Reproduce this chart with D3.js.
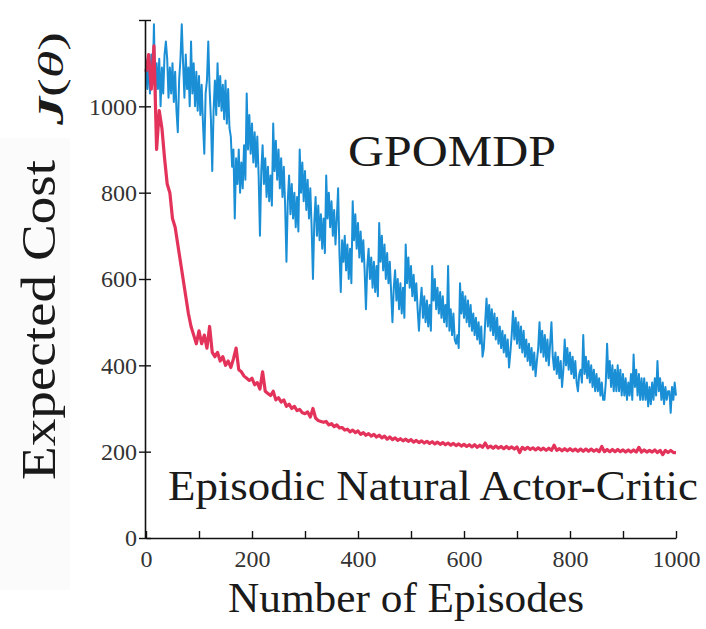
<!DOCTYPE html>
<html>
<head>
<meta charset="utf-8">
<script src="https://cdn.jsdelivr.net/npm/d3@7"></script>
<style>
  html, body { margin: 0; padding: 0; background: #fff; }
  svg { display: block; }
  text { font-family: "Liberation Serif", "DejaVu Serif", serif; }
</style>
</head>
<body>
<svg id="chart" width="706" height="629"></svg>
<script>
// ---- data ----
const gpomdpStep = 2.5;          // GPOMDP sampled every 2.5 episodes, 0..1000
const enacStep = 5;              // eNAC sampled every 5 episodes, 0..1000
const xTicks = [0, 100, 200, 300, 400, 500, 600, 700, 800, 900, 1000];
const xTickLabels = ["0", "", "200", "", "400", "", "600", "", "800", "", "1000"];
const yTicks = [0, 200, 400, 600, 800, 1000, 1200];
const yTickLabels = ["0", "200", "400", "600", "800", "1000", ""];

const gpomdp = [
  1100,1040,1110,1030,1120,1050,1190,1020,1100,1040,1110,1000,1090,1030,1120,1150,1110,1020,1090,1030,
  1100,1010,1080,990,940,1060,1110,1190,1100,1020,1120,1040,1090,1000,1150,1030,1100,1000,1080,990,
  1070,980,1050,960,890,1030,1060,1150,1040,970,850,990,1060,980,1100,1000,1070,990,1050,970,
  1060,960,1040,950,930,860,900,740,880,820,900,800,870,810,910,830,
  1030,900,980,890,960,870,940,860,930,840,700,850,910,820,880,790,860,780,840,770,
  960,850,920,830,900,810,880,790,860,770,640,780,840,750,820,740,800,720,790,710,
  900,800,870,780,850,760,830,740,810,720,600,730,790,700,770,690,750,670,740,660,
  840,740,800,720,780,700,760,680,740,810,660,570,690,640,700,620,680,600,670,590,
  780,690,750,670,730,650,710,640,690,620,530,630,670,600,650,580,640,570,630,560,
  730,640,700,620,680,600,660,590,640,570,500,580,620,550,600,530,590,520,580,510,
  680,590,650,580,630,560,610,550,590,530,480,540,580,510,560,500,550,490,540,480,
  630,550,600,530,580,520,570,510,560,500,540,490,630,480,530,470,520,460,450,470,
  440,590,520,570,510,560,500,550,490,540,480,520,470,510,460,500,450,490,420,440,
  500,555,490,540,480,530,470,520,460,510,450,490,440,480,430,470,420,460,395,430,
  470,525,460,510,450,500,440,490,430,480,420,460,410,450,400,440,390,430,375,410,
  440,500,430,480,420,470,410,460,400,450,500,420,390,430,380,420,370,410,350,390,
  460,400,440,390,430,380,420,370,410,360,340,380,390,360,470,380,420,370,410,360,
  400,350,390,340,380,340,370,330,360,320,320,360,450,370,410,350,400,340,390,340,
  400,340,390,330,380,330,370,320,360,330,380,320,425,350,390,330,380,320,370,320,
  370,320,360,305,350,310,360,320,370,330,410,340,370,320,360,310,350,320,340,340,
  290,350,320,360,330
];

const enac = [
  1080,1120,1040,1140,900,990,950,880,820,800,
  740,720,680,640,600,560,520,490,470,450,
  480,450,470,440,490,430,420,430,410,420,
  400,410,395,415,440,390,385,375,370,365,
  370,355,360,345,385,340,335,330,340,320,
  325,315,320,305,310,300,305,295,298,290,
  288,292,280,300,278,272,270,268,270,262,
  265,258,262,255,256,250,252,246,250,244,
  248,240,244,238,242,236,240,234,238,232,
  236,229,234,228,232,226,230,225,229,224,
  228,222,226,221,225,220,224,219,223,218,
  222,217,221,216,220,215,219,214,218,213,
  217,212,216,211,216,210,215,210,220,209,
  213,208,213,208,212,207,212,207,211,206,
  211,198,210,205,210,205,209,204,209,204,
  208,203,208,203,215,203,207,202,207,202,
  207,202,206,201,206,201,206,201,206,201,
  205,200,212,200,205,200,205,200,205,200,
  204,199,204,199,204,199,210,199,204,199,
  203,199,204,198,203,193,203,198,203,198,
  198
];

// ---- drawing ----
const svg = d3.select("#chart");
svg.append("rect").attr("width", 706).attr("height", 629).attr("fill", "#fff");
svg.append("rect").attr("x", 0).attr("y", 138).attr("width", 70).attr("height", 452).attr("fill", "#fbfbfb");

const x = d3.scaleLinear().domain([0, 1000]).range([146, 676]);
const y = d3.scaleLinear().domain([0, 1200]).range([538, 20]);

const lineFor = step => d3.line()
  .x((d, i) => x(i * step))
  .y(d => y(d));

svg.append("path").datum(gpomdp)
  .attr("fill", "none").attr("stroke", "#1a8fd6")
  .attr("stroke-width", 2).attr("stroke-linejoin", "round")
  .attr("d", lineFor(gpomdpStep));

svg.append("path").datum(enac)
  .attr("fill", "none").attr("stroke", "#e4335a")
  .attr("stroke-width", 3.2).attr("stroke-linejoin", "round")
  .attr("d", lineFor(enacStep));

// y axis
const yAxis = d3.axisLeft(y).tickValues(yTicks)
  .tickFormat((d, i) => yTickLabels[i])
  .tickSizeInner(6).tickSizeOuter(0).tickPadding(2);
const gy = svg.append("g").attr("transform", "translate(145,0)").call(yAxis);
gy.select(".domain").attr("stroke", "#111").attr("stroke-width", 1.6);
gy.selectAll(".tick line").attr("stroke", "#111").attr("stroke-width", 1.4);
gy.selectAll(".tick text").attr("font-size", 24).attr("fill", "#333")
  .attr("font-family", "Liberation Serif, serif");
gy.selectAll(".tick").append("line").attr("x1", 0).attr("x2", 6)
  .attr("stroke", "#111").attr("stroke-width", 1.4);

// x axis
const xAxis = d3.axisBottom(x).tickValues(xTicks)
  .tickFormat((d, i) => xTickLabels[i])
  .tickSizeInner(-7).tickSizeOuter(0).tickPadding(12);
const gx = svg.append("g").attr("transform", "translate(0,538)").call(xAxis);
gx.select(".domain").attr("stroke", "#111").attr("stroke-width", 1.6);
gx.selectAll(".tick line").attr("stroke", "#111").attr("stroke-width", 1.4);
gx.selectAll(".tick text").attr("font-size", 24).attr("fill", "#333")
  .attr("font-family", "Liberation Serif, serif");

// titles
svg.append("text").attr("x", 228).attr("y", 612)
  .attr("font-size", 42).attr("fill", "#1a1a1a")
  .attr("textLength", 356).attr("lengthAdjust", "spacingAndGlyphs")
  .text("Number of Episodes");

svg.append("text").attr("transform", "translate(55,480) rotate(-90)")
  .attr("font-size", 48).attr("fill", "#1a1a1a")
  .attr("textLength", 320).attr("lengthAdjust", "spacingAndGlyphs")
  .text("Expected Cost");

const jt = svg.append("text").attr("transform", "translate(63,125) rotate(-90)")
  .attr("font-size", 36).attr("fill", "#1a1a1a")
  .attr("textLength", 93).attr("lengthAdjust", "spacingAndGlyphs");
jt.append("tspan").attr("font-weight", "bold").attr("font-style", "italic").text("J");
jt.append("tspan").text("(");
jt.append("tspan").attr("font-style", "italic").text("θ");
jt.append("tspan").text(")");

svg.append("text").attr("x", 348).attr("y", 166)
  .attr("font-size", 44).attr("fill", "#1a1a1a")
  .attr("textLength", 208).attr("lengthAdjust", "spacingAndGlyphs")
  .text("GPOMDP");

svg.append("text").attr("x", 168).attr("y", 500)
  .attr("font-size", 43).attr("fill", "#1a1a1a")
  .attr("textLength", 530).attr("lengthAdjust", "spacingAndGlyphs")
  .text("Episodic Natural Actor-Critic");
</script>
</body>
</html>
